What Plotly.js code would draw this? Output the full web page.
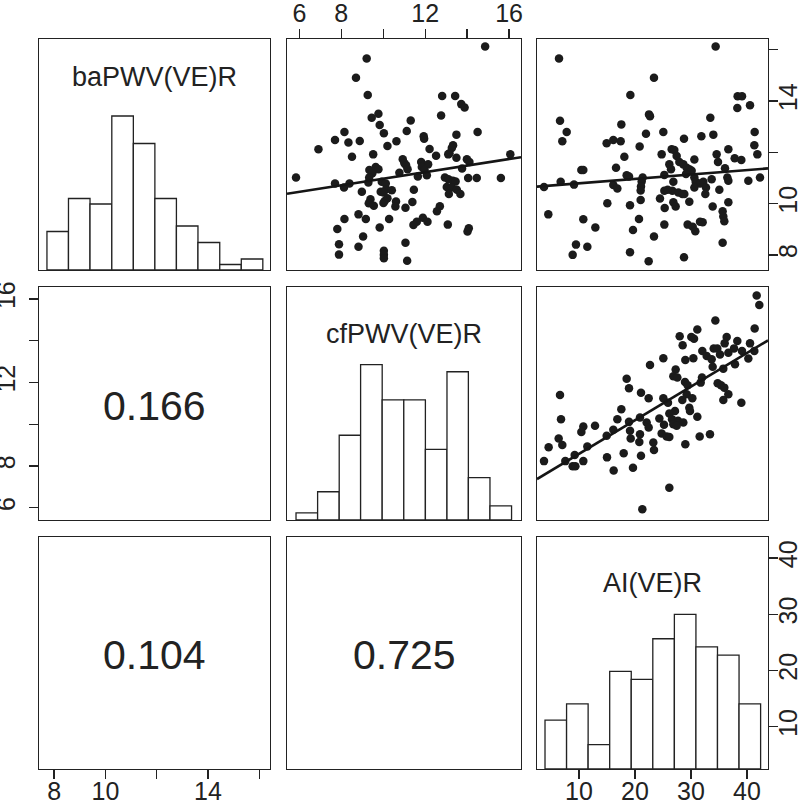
<!DOCTYPE html>
<html><head><meta charset="utf-8">
<script src="https://cdn.plot.ly/plotly-3.0.1.min.js"></script>
<style>html,body{margin:0;padding:0;background:#fff}#chart{width:800px;height:801px}</style>
</head><body><div id="chart"></div>
<script>
// ---------- data ----------
const varNames = ['baPWV(VE)R', 'cfPWV(VE)R', 'AI(VE)R'];
const corValues = [0.166, 0.104, 0.725]; // (ba,cf), (ba,AI), (cf,AI)

const baBreaks = [7.72, 8.56, 9.40, 10.25, 11.09, 11.93, 12.77, 13.61, 14.46, 15.30, 16.14];
const baCounts = [7, 13, 12, 28, 23, 13, 8, 5, 1, 2];
const cfBreaks = [5.84, 6.87, 7.90, 8.92, 9.95, 10.98, 12.01, 13.04, 14.06, 15.09, 16.12];
const cfCounts = [1, 4, 12, 22, 17, 17, 10, 21, 6, 2];
const aiBreaks = [3.93, 7.78, 11.63, 15.48, 19.33, 23.18, 27.03, 30.88, 34.73, 38.58, 42.43];
const aiCounts = [6, 8, 3, 12, 11, 16, 19, 15, 14, 8];

// scatter: baPWV (y) vs cfPWV (x)
const p12_cf = [14.86,9.21,8.70,9.26,12.81,13.43,13.72,13.88,9.45,9.77,
12.76,11.31,9.83,11.12,10.03,8.15,7.70,8.34,8.88,11.93,
11.95,13.49,14.50,6.91,10.20,10.63,12.21,13.33,13.27,13.16,
13.10,8.51,9.52,12.52,13.49,16.06,10.93,11.01,11.09,11.16,
11.81,12.14,11.84,11.97,13.99,14.11,13.76,9.64,9.34,9.77,
9.48,9.33,5.84,10.77,11.65,12.08,12.94,13.11,13.32,13.45,
13.03,13.27,14.05,14.46,15.61,7.70,8.13,8.39,9.29,9.93,
10.12,10.14,10.41,9.88,10.01,8.98,11.46,13.51,13.68,13.13,
9.39,9.31,9.55,10.20,10.07,10.01,10.61,10.58,11.39,11.06,
12.70,12.56,8.82,9.17,8.15,10.28,11.89,11.60,12.11,11.44,
7.81,9.83,13.08,14.08,14.02,9.04,7.89,8.82,11.06,7.89,
10.03,10.03,10.03,11.14];
const p12_ba = [16.13,15.66,14.91,14.24,14.20,14.20,13.88,13.75,13.35,13.50,
13.44,13.24,13.07,12.83,12.74,12.79,12.48,12.38,12.44,12.63,
12.53,12.69,12.79,12.12,12.25,12.43,12.13,12.28,12.17,11.96,
11.92,11.83,11.92,11.87,11.79,11.92,11.73,11.57,11.50,11.34,
11.62,11.53,11.43,11.31,11.73,11.62,11.37,11.43,11.31,11.34,
11.18,11.02,11.02,11.20,11.06,11.11,11.02,10.95,10.89,10.86,
10.65,10.63,11.00,11.00,11.00,10.78,10.63,10.78,10.82,10.85,
10.78,10.56,10.52,10.46,10.43,10.46,10.54,10.54,10.37,10.37,
10.17,10.01,9.92,10.21,10.10,10.02,10.08,9.89,10.06,9.84,
9.90,9.70,9.58,9.40,9.40,9.40,9.45,9.29,9.29,9.17,
9.01,9.07,9.18,9.04,8.91,8.72,8.41,8.32,8.47,8.01,
8.16,8.00,7.87,7.77];

// scatter: baPWV (y) vs AI (x)
const p13_ai = [34.40,6.43,23.39,19.17,6.61,7.80,7.02,17.56,22.50,22.68,
33.45,21.96,25.06,14.94,16.13,17.44,20.83,28.75,31.85,33.99,
38.33,39.11,38.27,40.54,41.37,41.31,41.85,18.10,24.76,26.55,
27.02,27.44,34.58,34.82,36.67,37.80,38.99,30.60,10.42,10.77,
16.61,18.51,18.93,21.37,25.24,26.13,26.43,27.92,28.63,29.23,
29.70,30.12,29.11,36.07,36.49,36.67,33.69,40.24,42.32,6.73,
9.11,3.75,16.13,16.85,21.19,21.07,21.01,26.85,26.67,30.60,
30.83,31.61,32.20,32.68,32.56,35.06,25.24,25.83,27.74,28.45,
28.81,30.60,24.46,25.30,26.85,27.26,29.70,33.87,36.67,35.65,
35.77,35.95,15.06,19.11,21.01,4.52,10.77,12.92,20.71,19.64,
25.24,29.40,30.30,30.77,31.61,32.08,23.39,9.46,8.87,11.49,
19.11,22.44,28.75,35.65];
const p13_ba = [16.13,15.66,14.91,14.24,13.23,12.79,12.43,13.09,13.48,13.41,
13.35,12.72,12.79,12.35,12.48,12.43,12.23,12.53,12.63,12.69,
14.19,14.19,13.73,13.84,12.79,12.28,11.92,11.83,11.92,12.12,
12.09,11.86,11.92,11.62,12.12,11.77,11.70,11.72,11.31,11.31,
11.40,11.11,11.06,11.02,11.12,11.53,11.34,11.62,11.53,11.40,
11.34,11.28,11.15,11.38,11.02,10.89,10.95,10.89,11.02,10.85,
10.74,10.65,10.73,10.59,10.86,10.67,10.51,10.85,10.50,11.02,
10.85,10.78,10.85,10.63,10.37,10.54,10.50,10.54,10.43,10.37,
10.37,10.63,10.20,9.83,10.05,9.89,10.07,9.89,10.05,9.70,
9.50,9.31,10.01,9.94,10.14,9.58,9.39,9.07,9.40,8.97,
9.18,9.18,9.10,8.92,9.29,9.27,8.72,8.40,8.00,8.32,
8.10,7.75,7.91,8.47];

// scatter: cfPWV (y) vs AI (x)
const p23_ai = [41.73,42.20,34.35,41.37,27.98,28.51,30.06,30.54,31.13,36.37,
36.01,38.27,40.54,25.06,22.68,28.99,30.42,32.02,32.80,33.69,
34.05,34.70,35.18,36.67,37.68,39.11,40.24,41.31,33.87,35.77,
37.86,27.26,26.85,27.56,28.93,29.40,29.23,31.96,31.73,18.51,
18.93,21.07,22.44,6.61,34.76,35.36,35.95,36.67,35.77,38.99,
25.06,25.89,28.45,30.24,17.56,27.14,26.13,26.61,27.68,26.85,
27.44,28.63,29.70,29.82,31.13,6.79,16.85,18.93,20.89,22.08,
22.44,24.35,25.18,12.86,10.77,10.42,16.13,19.11,19.23,20.89,
20.77,24.76,25.65,26.13,28.99,31.55,33.39,6.37,7.02,14.94,
23.27,23.39,4.58,11.49,3.75,7.56,8.87,9.35,9.23,10.77,
15.00,17.98,21.07,16.19,19.64,26.13,21.31];
const p23_cf = [16.16,15.71,14.96,14.58,14.21,13.78,14.18,14.09,14.53,14.18,
13.87,13.98,13.87,13.16,12.83,13.07,13.16,13.50,13.26,13.11,
13.62,13.62,13.34,13.42,13.63,13.50,13.14,13.50,12.75,12.66,
12.87,12.62,12.30,12.23,12.02,11.86,11.43,12.23,11.99,12.18,
11.72,11.51,11.24,11.40,11.96,11.86,11.75,11.43,11.16,11.03,
11.24,11.03,11.16,11.24,10.71,10.63,10.51,10.24,10.16,10.00,
9.92,10.08,10.79,10.63,10.35,10.24,10.24,10.11,10.32,10.08,
9.84,10.27,9.97,9.92,9.89,9.63,9.73,9.68,9.31,9.52,
9.15,9.55,9.41,9.39,9.04,9.41,9.52,9.31,9.00,9.44,
9.12,8.76,8.90,8.93,8.23,8.23,7.98,7.98,8.52,8.23,
8.41,8.61,8.49,7.78,7.91,6.96,5.92];

// fitted lines [intercept, slope]
const fitBaOnCf = [9.69, 0.128];
const fitBaOnAi = [10.62, 0.0172];
const fitCfOnAi = [6.97, 0.161];

// tick labels
const baTicks = [8, 10, 12, 14, 16];
const baTickText = ['8', '10', '', '14', ''];
const cfTicks = [6, 8, 10, 12, 14, 16];
const cfTickText = ['6', '8', '', '12', '', '16'];
const aiTicks = [10, 20, 30, 40];
const aiTickText = ['10', '20', '30', '40'];

// ---------- layout helpers ----------
const baRange = [7.41, 16.42];
const cfRange = [5.41, 16.57];
const aiRange = [2.50, 43.75];

const W = 800, H = 801;
const colPx = [[39, 270], [287, 521], [537, 768]];
const rowPx = [[39, 270], [287, 520], [537, 769]];
const colDom = colPx.map(c => [c[0] / W, c[1] / W]);
const rowDom = rowPx.map(r => [1 - r[1] / H, 1 - r[0] / H]);

const INK = '#222222';
const FONT = 'Liberation Sans, Arial, Helvetica, sans-serif';
const tickFont = {family: FONT, size: 25, color: INK};

function baseAxis(extra) {
  return Object.assign({
    showline: true, mirror: true, linecolor: INK, linewidth: 1.3,
    showgrid: false, zeroline: false, ticks: '', showticklabels: false,
    fixedrange: true
  }, extra);
}
function tickAxis(vals, text, extra) {
  return baseAxis(Object.assign({
    tickmode: 'array', tickvals: vals, ticktext: text,
    ticks: 'outside', ticklen: 9, tickwidth: 1.3, tickcolor: INK,
    showticklabels: true, tickfont: tickFont
  }, extra));
}

const ranges = [baRange, cfRange, aiRange];
const layout = {
  width: W, height: H,
  margin: {l: 0, r: 0, t: 0, b: 0},
  paper_bgcolor: '#ffffff', plot_bgcolor: '#ffffff',
  showlegend: false, hovermode: false,
  annotations: []
};

// build 9 subplots
for (let r = 0; r < 3; r++) {
  for (let c = 0; c < 3; c++) {
    const k = r * 3 + c + 1;
    layout['xaxis' + k] = baseAxis({domain: colDom[c], anchor: 'y' + k, range: ranges[c]});
    layout['yaxis' + k] = baseAxis({domain: rowDom[r], anchor: 'x' + k, range: ranges[r]});
  }
}
// visible axes (R pairs style)
layout.xaxis2 = tickAxis(cfTicks, cfTickText, {domain: colDom[1], anchor: 'y2', range: cfRange, side: 'top', ticklabelstandoff: -3});
layout.yaxis3 = tickAxis(baTicks, baTickText, {domain: rowDom[0], anchor: 'x3', range: baRange, side: 'right', tickangle: -90, ticklabelstandoff: -11});
layout.yaxis4 = tickAxis(cfTicks, cfTickText, {domain: rowDom[1], anchor: 'x4', range: cfRange, side: 'left', tickangle: -90, ticklabelstandoff: 4});
layout.xaxis7 = tickAxis(baTicks, baTickText, {domain: colDom[0], anchor: 'y7', range: baRange, side: 'bottom', ticklabelstandoff: -9});
layout.xaxis9 = tickAxis(aiTicks, aiTickText, {domain: colDom[2], anchor: 'y9', range: aiRange, side: 'bottom', ticklabelstandoff: -9});
layout.yaxis9 = tickAxis(aiTicks, aiTickText, {domain: rowDom[2], anchor: 'x9', range: aiRange, side: 'right', tickangle: -90, ticklabelstandoff: -11});

// histogram count axes
layout.yaxis1 = baseAxis({domain: rowDom[0], anchor: 'x1', range: [0, 1.5 * Math.max(...baCounts)]});
layout.yaxis5 = baseAxis({domain: rowDom[1], anchor: 'x5', range: [0, 1.5 * Math.max(...cfCounts)]});
// separate hidden pair for the AI histogram (same panel area as x9/y9)
layout.xaxis10 = {domain: colDom[2], anchor: 'y10', range: aiRange, visible: false,
  showgrid: false, zeroline: false, showline: false, fixedrange: true};
layout.yaxis10 = {domain: rowDom[2], anchor: 'x10', range: [0, 1.5 * Math.max(...aiCounts)], visible: false,
  showgrid: false, zeroline: false, showline: false, fixedrange: true};

// ---------- traces ----------
const traces = [];
// empty traces so that panels without marks still get their frame and axes
[4, 7, 8, 9].forEach(k => traces.push({type: 'scatter', mode: 'markers', x: [], y: [],
  xaxis: 'x' + k, yaxis: 'y' + k, hoverinfo: 'skip'}));

function hist(breaks, counts, xa, ya) {
  const centers = [], widths = [];
  for (let i = 0; i < counts.length; i++) {
    centers.push((breaks[i] + breaks[i + 1]) / 2);
    widths.push(breaks[i + 1] - breaks[i]);
  }
  traces.push({type: 'bar', x: centers, y: counts, width: widths, xaxis: xa, yaxis: ya,
    marker: {color: '#ffffff', line: {color: INK, width: 1.3}}, hoverinfo: 'skip'});
}
hist(baBreaks, baCounts, 'x1', 'y1');
hist(cfBreaks, cfCounts, 'x5', 'y5');
hist(aiBreaks, aiCounts, 'x10', 'y10');

const ptMarker = {color: '#1b1b1b', size: 8.5, line: {width: 0}};
function scat(x, y, xa, ya) {
  traces.push({type: 'scatter', mode: 'markers', x: x, y: y, xaxis: xa, yaxis: ya, marker: ptMarker, hoverinfo: 'skip'});
}
function fit(coef, xr, xa, ya) {
  traces.push({type: 'scatter', mode: 'lines', x: xr, y: xr.map(v => coef[0] + coef[1] * v),
    xaxis: xa, yaxis: ya, line: {color: '#151515', width: 2.6}, hoverinfo: 'skip'});
}
scat(p12_cf, p12_ba, 'x2', 'y2');
fit(fitBaOnCf, cfRange, 'x2', 'y2');
scat(p13_ai, p13_ba, 'x3', 'y3');
fit(fitBaOnAi, aiRange, 'x3', 'y3');
scat(p23_ai, p23_cf, 'x6', 'y6');
fit(fitCfOnAi, aiRange, 'x6', 'y6');

// ---------- text (paper coordinates from panel domains) ----------
function panelPoint(r, c, fx, fy) {
  return {x: colDom[c][0] + fx * (colDom[c][1] - colDom[c][0]),
          y: rowDom[r][0] + fy * (rowDom[r][1] - rowDom[r][0])};
}
const labelHeights = [0.835, 0.80, 0.80];
[0, 1, 2].forEach(i => {
  const p = panelPoint(i, i, 0.5, labelHeights[i]);
  layout.annotations.push({xref: 'paper', yref: 'paper', x: p.x, y: p.y,
    text: varNames[i], showarrow: false, xanchor: 'center', yanchor: 'middle',
    font: {family: FONT, size: 27, color: INK}});
});
const corCells = [[1, 0], [2, 0], [2, 1]];
corCells.forEach((rc, i) => {
  const p = panelPoint(rc[0], rc[1], 0.5, 0.49);
  layout.annotations.push({xref: 'paper', yref: 'paper', x: p.x, y: p.y,
    text: corValues[i].toFixed(3), showarrow: false, xanchor: 'center', yanchor: 'middle',
    font: {family: FONT, size: 41, color: INK}});
});

Plotly.newPlot('chart', traces, layout, {staticPlot: true, displayModeBar: false});
</script>
</body></html>
